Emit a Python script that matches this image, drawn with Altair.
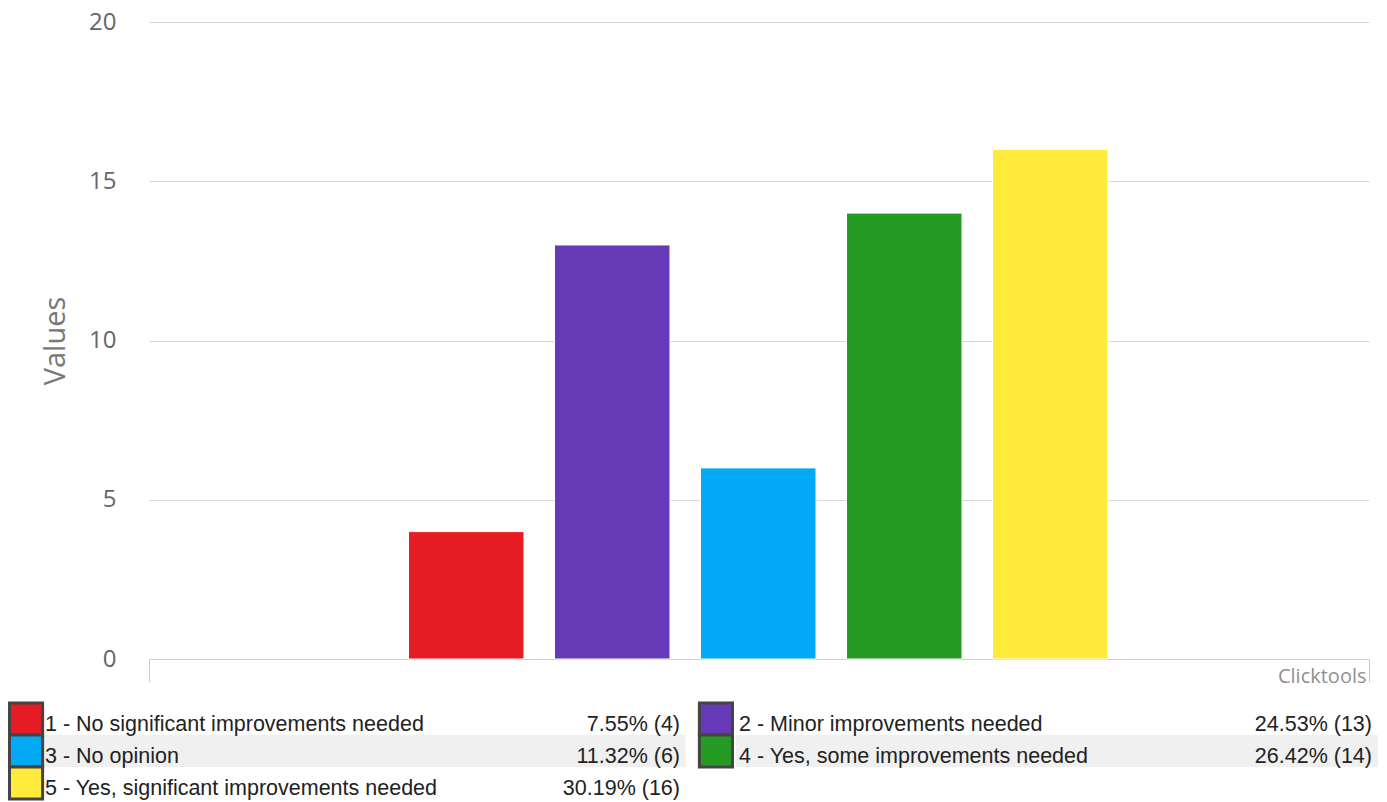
import altair as alt
import pandas as pd

# ---- data ----
categories = [
    "1 - No significant improvements needed",
    "2 - Minor improvements needed",
    "3 - No opinion",
    "4 - Yes, some improvements needed",
    "5 - Yes, significant improvements needed",
]
counts = [4, 13, 6, 14, 16]
percent_labels = ["7.55% (4)", "24.53% (13)", "11.32% (6)", "26.42% (14)", "30.19% (16)"]
colors = ["#E51C23", "#673AB7", "#03A9F4", "#259B24", "#FFEB3B"]
y_ticks = [0, 5, 10, 15, 20]
edges = [0, 1]

W, H = 1220, 637

bars_df = pd.DataFrame({"category": categories, "count": counts})
legend_df = pd.DataFrame({
    "category": categories,
    "pct": percent_labels,
    "row": [i // 2 for i in range(len(categories))],
    "col": [i % 2 for i in range(len(categories))],
})
edge_df = pd.DataFrame({"edge": edges})

color = alt.Color("category:N", scale=alt.Scale(domain=categories, range=colors), legend=None)

bars = alt.Chart(bars_df).transform_calculate(grp="'all'").mark_bar(
    stroke="white", strokeWidth=1
).encode(
    x=alt.X("grp:N", scale=alt.Scale(paddingInner=0, paddingOuter=0), axis=None),
    xOffset=alt.XOffset("category:N", sort=categories,
                        scale=alt.Scale(range=[259.5, 959], paddingInner=0.209, paddingOuter=0)),
    y=alt.Y("count:Q", scale=alt.Scale(domain=[0, 20], nice=False),
            axis=alt.Axis(values=y_ticks, grid=True, gridColor="#d8d8d8", gridWidth=1,
                          domain=False, ticks=False, labelPadding=33,
                          labelFont="Open Sans", labelFontSize=24, labelColor="#666666",
                          title="Values", titleFont="Open Sans", titleFontSize=29,
                          titleFontWeight="normal", titleColor="#777777", titlePadding=18)),
    color=color,
)

frame = alt.Chart(edge_df).mark_rule(opacity=0).encode(
    x=alt.X("edge:Q", scale=alt.Scale(domain=[0, 1], nice=False, zero=False),
            axis=alt.Axis(values=edges, labels=False, ticks=True, tickSize=23,
                          tickColor="#C0D0E0", domainColor="#C0D0E0", grid=False,
                          title="Clicktools", titleAnchor="end", titleAlign="right",
                          titleX=W - 3, titleY=23, titleBaseline="alphabetic",
                          titleFont="Open Sans", titleFontSize=20, titleFontWeight="normal",
                          titleColor="#909090")),
)

row_band = alt.Scale(type="band", domain=[0, 1, 2], range=[681, 777], paddingInner=0, paddingOuter=0)
row_point = alt.Scale(type="point", domain=[0, 1, 2], range=[697, 761], padding=0)

bg = alt.Chart(legend_df).transform_filter("datum.row == 1").mark_rect(fill="#f0f0f0").encode(
    x=alt.X("col:O", scale=alt.Scale(type="band", domain=[0, 1], range=[-106, 1229],
                                     paddingInner=0.0722, paddingOuter=0), axis=None),
    y=alt.Y("row:O", scale=row_band, axis=None),
)

swatch = alt.Chart(legend_df).mark_rect(stroke="#444444", strokeWidth=3).encode(
    x=alt.X("col:O", scale=alt.Scale(type="band", domain=[0, 1], range=[-139.5, 583.5],
                                     paddingInner=0.952, paddingOuter=0), axis=None),
    y=alt.Y("row:O", scale=row_band, axis=None),
    color=color,
)

labels = alt.Chart(legend_df).mark_text(
    align="left", baseline="alphabetic", dy=12, font="Liberation Sans", fontSize=21.5, color="#222222"
).encode(
    x=alt.X("col:O", scale=alt.Scale(type="point", domain=[0, 1], range=[-104, 590], padding=0), axis=None),
    y=alt.Y("row:O", scale=row_point, axis=None),
    text="category:N",
)

pcts = alt.Chart(legend_df).mark_text(
    align="right", baseline="alphabetic", dy=12, font="Liberation Sans", fontSize=21.5, color="#222222"
).encode(
    x=alt.X("col:O", scale=alt.Scale(type="point", domain=[0, 1], range=[531, 1223], padding=0), axis=None),
    y=alt.Y("row:O", scale=row_point, axis=None),
    text="pct:N",
)

chart = alt.layer(bg, swatch, labels, pcts, bars, frame).resolve_scale(
    x="independent", y="independent"
).properties(
    width=W, height=H,
    autosize=alt.AutoSizeParams(type="none"),
    padding={"left": 141, "top": 14, "right": 10, "bottom": 142},
).configure_view(stroke=None)

chart.save("out.html", embed_options={"renderer": "svg", "actions": False})
